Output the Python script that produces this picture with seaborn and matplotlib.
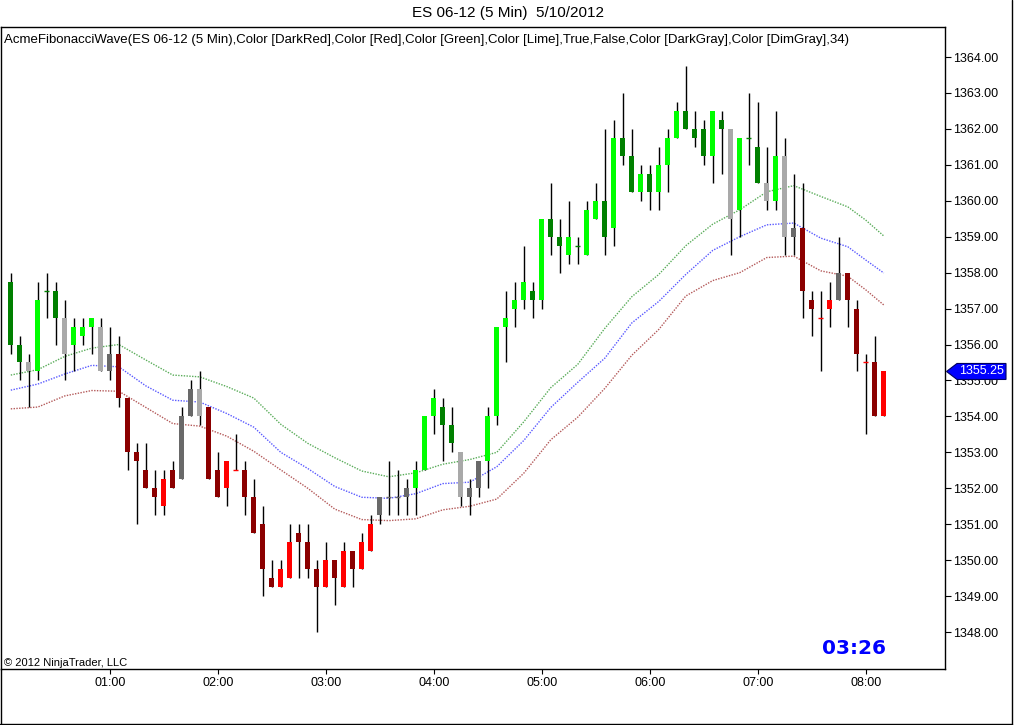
import matplotlib
matplotlib.use("Agg")
import matplotlib.pyplot as plt
import matplotlib.transforms as mtrans
from matplotlib.patches import Polygon
from matplotlib.lines import Line2D
from matplotlib.ticker import FuncFormatter
import seaborn as sns
import numpy as np

# ---------------- data ----------------
title = "ES 06-12 (5 Min)  5/10/2012"
indicator_label = ("AcmeFibonacciWave(ES 06-12 (5 Min),Color [DarkRed],Color [Red],Color [Green],"
                   "Color [Lime],True,False,Color [DarkGray],Color [DimGray],34)")
first_bar_minute = 5      # first bar closes at 00:05
bar_minutes = 5
hour_labels = ["01:00", "02:00", "03:00", "04:00", "05:00", "06:00", "07:00", "08:00"]
price_ticks = [1348, 1349, 1350, 1351, 1352, 1353, 1354, 1355, 1356, 1357, 1358,
               1359, 1360, 1361, 1362, 1363, 1364]
last_price = 1355.25
clock_text = "03:26"
copyright_text = "\u00a9 2012 NinjaTrader, LLC"

opens = [1357.75, 1356.0, 1355.5, 1355.25, 1357.5, 1357.5, 1356.75, 1356.0, 1356.25, 1356.5,
         1356.5, 1355.25, 1355.75, 1354.5, 1353.0, 1352.5, 1352.0, 1351.5, 1352.5, 1352.25,
         1354.0, 1354.75, 1354.25, 1352.5, 1352.0, 1352.5, 1352.5, 1351.75, 1351.0, 1349.5,
         1349.25, 1349.5, 1350.75, 1350.5, 1349.75, 1349.25, 1350.0, 1349.25, 1350.25, 1349.75,
         1350.25, 1351.25, 1351.75, 1351.75, 1351.75, 1352.0, 1352.5, 1354.0, 1354.25, 1353.75,
         1353.0, 1351.75, 1352.0, 1352.75, 1354.0, 1356.5, 1357.0, 1357.25, 1357.5, 1357.25,
         1359.5, 1359.0, 1358.5, 1358.75, 1358.5, 1359.5, 1360.0, 1359.25, 1361.75, 1361.25,
         1360.25, 1360.75, 1360.25, 1361.0, 1361.75, 1362.5, 1362.0, 1362.0, 1361.25, 1362.25,
         1362.0, 1359.75, 1361.75, 1361.5, 1360.5, 1360.0, 1361.25, 1359.0, 1359.25, 1357.25,
         1356.75, 1357.0, 1357.25, 1358.0, 1357.0, 1355.5, 1355.5, 1354.0]
highs = [1358.0, 1356.25, 1355.75, 1357.75, 1358.0, 1357.75, 1357.25, 1356.75, 1356.75, 1356.75,
         1356.75, 1356.5, 1356.25, 1354.5, 1353.25, 1353.25, 1352.5, 1352.5, 1352.75, 1354.25,
         1355.0, 1355.25, 1354.25, 1353.0, 1352.75, 1353.5, 1352.75, 1352.25, 1351.5, 1350.0,
         1350.0, 1351.0, 1351.0, 1351.0, 1350.0, 1350.5, 1350.0, 1350.5, 1350.25, 1350.75,
         1351.25, 1351.75, 1352.75, 1352.5, 1352.25, 1352.75, 1354.0, 1354.75, 1354.5, 1354.25,
         1353.0, 1352.25, 1352.75, 1354.25, 1356.5, 1357.5, 1357.75, 1358.75, 1357.75, 1359.5,
         1360.5, 1359.5, 1360.0, 1359.0, 1360.0, 1360.5, 1362.0, 1362.25, 1363.0, 1362.0,
         1361.0, 1361.0, 1361.5, 1362.0, 1362.75, 1363.75, 1362.5, 1362.25, 1362.5, 1362.5,
         1362.0, 1361.75, 1363.0, 1362.75, 1361.5, 1362.5, 1361.75, 1360.75, 1360.5, 1357.5,
         1357.5, 1357.75, 1359.0, 1358.0, 1357.25, 1355.75, 1356.25, 1355.25]
lows = [1355.75, 1355.0, 1354.25, 1355.0, 1356.75, 1356.0, 1355.0, 1355.25, 1356.0, 1355.75,
        1355.25, 1355.0, 1354.25, 1352.5, 1351.0, 1352.0, 1351.25, 1351.25, 1352.0, 1352.25,
        1354.0, 1353.75, 1352.25, 1351.75, 1351.5, 1352.5, 1351.25, 1350.75, 1349.0, 1349.25,
        1349.25, 1349.5, 1349.5, 1349.5, 1348.0, 1349.25, 1348.75, 1349.25, 1349.25, 1349.75,
        1350.25, 1351.0, 1351.25, 1351.25, 1351.25, 1351.25, 1352.5, 1353.5, 1352.75, 1353.0,
        1351.5, 1351.25, 1351.75, 1352.0, 1353.75, 1355.5, 1356.5, 1357.0, 1356.75, 1357.0,
        1358.5, 1358.0, 1358.25, 1358.25, 1358.5, 1359.5, 1358.5, 1358.75, 1361.0, 1360.25,
        1360.0, 1359.75, 1359.75, 1360.25, 1361.75, 1362.0, 1361.5, 1361.0, 1360.5, 1360.75,
        1358.5, 1359.0, 1361.0, 1360.5, 1359.75, 1359.75, 1358.5, 1358.5, 1356.75, 1356.25,
        1355.25, 1356.5, 1357.25, 1356.5, 1355.25, 1353.5, 1354.0, 1354.0]
closes = [1356.0, 1355.5, 1355.25, 1357.25, 1357.5, 1356.75, 1355.75, 1356.5, 1356.5, 1356.75,
          1355.25, 1355.75, 1354.5, 1353.0, 1352.75, 1352.0, 1351.75, 1352.25, 1352.0, 1354.0,
          1354.75, 1354.0, 1352.25, 1351.75, 1352.75, 1352.5, 1351.75, 1350.75, 1349.75, 1349.25,
          1349.75, 1350.5, 1350.5, 1349.75, 1349.25, 1350.0, 1349.5, 1350.25, 1349.75, 1350.5,
          1351.0, 1351.75, 1351.75, 1351.75, 1352.0, 1352.5, 1354.0, 1354.5, 1353.75, 1353.25,
          1351.75, 1352.0, 1352.75, 1354.0, 1356.5, 1356.75, 1357.25, 1357.75, 1357.25, 1359.5,
          1359.0, 1358.75, 1359.0, 1358.75, 1359.75, 1360.0, 1359.0, 1361.75, 1361.25, 1360.25,
          1360.75, 1360.25, 1361.0, 1361.75, 1362.5, 1362.0, 1361.75, 1361.25, 1362.5, 1362.0,
          1359.5, 1361.75, 1361.75, 1360.5, 1360.0, 1361.25, 1359.0, 1359.25, 1357.5, 1357.0,
          1356.75, 1357.25, 1358.0, 1357.25, 1355.75, 1355.5, 1354.0, 1355.25]
# G=Green, L=Lime, D=DarkRed, R=Red, A=DarkGray, M=DimGray
bar_codes = ("GGALGGALLLAMDDDDDRDMMADDRRDDDDRRDDDRDRDRRMMMMLLLGGAMMLLLLLGLGGLGLLGLGGLGLLLGGGLGALGGALAMDDRRMDDRDR")

band_idx = [0, 3, 6, 9, 12, 15, 18, 21, 24, 27, 30, 33, 36, 39, 42, 45, 48, 51, 54, 57,
            60, 63, 66, 69, 72, 75, 78, 81, 84, 87, 90, 93, 95, 97]
upper_band = [1355.15, 1355.30, 1355.67, 1355.90, 1356.00, 1355.57, 1355.15, 1355.10, 1354.83,
              1354.51, 1353.78, 1353.25, 1352.85, 1352.48, 1352.32, 1352.43, 1352.67, 1352.80,
              1353.00, 1353.85, 1354.80, 1355.45, 1356.45, 1357.33, 1357.95, 1358.75, 1359.35,
              1359.75, 1360.25, 1360.42, 1360.12, 1359.83, 1359.46, 1359.02]
middle_band = [1354.73, 1354.90, 1355.18, 1355.42, 1355.38, 1354.85, 1354.45, 1354.40, 1354.08,
               1353.70, 1353.00, 1352.55, 1352.05, 1351.75, 1351.72, 1351.85, 1352.13, 1352.17,
               1352.60, 1353.33, 1354.25, 1354.95, 1355.62, 1356.60, 1357.20, 1357.95, 1358.62,
               1359.00, 1359.33, 1359.38, 1358.96, 1358.72, 1358.35, 1357.99]
lower_band = [1354.21, 1354.26, 1354.57, 1354.72, 1354.70, 1354.25, 1353.80, 1353.73, 1353.45,
              1353.03, 1352.51, 1352.00, 1351.42, 1351.13, 1351.10, 1351.15, 1351.40, 1351.50,
              1351.70, 1352.42, 1353.35, 1353.98, 1354.78, 1355.70, 1356.42, 1357.35, 1357.78,
              1358.00, 1358.42, 1358.46, 1358.05, 1357.90, 1357.52, 1357.10]

color_map = {"G": "#008000", "L": "#00FF00", "D": "#8B0000", "R": "#FF0000",
             "A": "#A9A9A9", "M": "#696969"}

# ---------------- style ----------------
sns.set_theme(style="white")
plt.rcParams["font.family"] = ["Liberation Sans", "DejaVu Sans"]

W, H = 1016, 725
fig = plt.figure(figsize=(W / 100, H / 100), dpi=100, facecolor="white")
ax_l, ax_r, ax_t, ax_b = 0.5, 945.0, 27.0, 669.0
ax = fig.add_axes([ax_l / W, (H - ax_b) / H, (ax_r - ax_l) / W, (ax_b - ax_t) / H])
ax.set_facecolor("white")

px = 1.0 * 72 / 100  # one pixel in points
x = np.arange(len(opens))
o = np.array(opens); c = np.array(closes); hi = np.array(highs); lo = np.array(lows)
cols = [color_map[k] for k in bar_codes]

# bands
sns.lineplot(x=band_idx, y=upper_band, ax=ax, color="#008000", linewidth=1.0,
             linestyle=(0, (1, 1)), alpha=0.65, sort=False)
sns.lineplot(x=band_idx, y=middle_band, ax=ax, color="#0000FF", linewidth=1.0,
             linestyle=(0, (1, 1)), alpha=0.65, sort=False)
sns.lineplot(x=band_idx, y=lower_band, ax=ax, color="#8B0000", linewidth=1.0,
             linestyle=(0, (1, 1)), alpha=0.65, sort=False)

# wicks
ax.vlines(x, lo, hi, colors="black", linewidth=1.4 * px, zorder=3)
# bodies
bw = 5.0 / 9.0
body_bottom = np.minimum(o, c)
body_h = np.abs(c - o)
mask = body_h > 0
ax.bar(x[mask], body_h[mask], bottom=body_bottom[mask], width=bw,
       color=[cc for cc, m in zip(cols, mask) if m], linewidth=0, zorder=4)
dmask = ~mask
ax.hlines(o[dmask], x[dmask] - bw / 2, x[dmask] + bw / 2,
          colors=[cc for cc, m in zip(cols, dmask) if m], linewidth=1.4 * px, zorder=5)

# limits
ppx = 35.94  # pixels per point of price
ax.set_xlim(-10.3 / 9, (ax_r - ax_l - 10.3) / 9)
ax.set_ylim(1364 - (ax_b - 57) / ppx, 1364 + (57 - ax_t) / ppx)

# ticks
hour_pos = [(int(h[:2]) * 60 + int(h[3:]) - first_bar_minute) / bar_minutes for h in hour_labels]
ax.set_xticks(hour_pos)
ax.set_xticklabels(hour_labels)
ax.yaxis.tick_right()
ax.set_yticks(price_ticks)
ax.yaxis.set_major_formatter(FuncFormatter(lambda v, p: f"{v:.2f}"))
ax.tick_params(axis="y", which="both", right=True, left=False, direction="out",
               length=4.5, width=0.8, labelsize=9, pad=1.5, colors="black")
ax.tick_params(axis="x", which="both", bottom=True, direction="out",
               length=3.5, width=0.8, labelsize=9, pad=2.5, colors="black")
for s in ax.spines.values():
    s.set_color("black")
    s.set_linewidth(1.0)
ax.grid(False)

# texts
fig.text(508.5 / W, 1 - 13 / H, title, ha="center", va="center", fontsize=11, color="black")
ax.text(3 / (ax_r - ax_l), 1 - (40 - ax_t) / (ax_b - ax_t), indicator_label,
        transform=ax.transAxes, ha="left", va="center", fontsize=9.55, color="black")
ax.text(3 / (ax_r - ax_l), 1 - (663 - ax_t) / (ax_b - ax_t), copyright_text,
        transform=ax.transAxes, ha="left", va="center", fontsize=8, color="black")
ax.text((854 - ax_l) / (ax_r - ax_l), 1 - (648 - ax_t) / (ax_b - ax_t), clock_text,
        transform=ax.transAxes, ha="center", va="center", fontsize=14.5,
        fontweight="bold", color="#0000FF", family="DejaVu Sans")

# last price marker
tr = mtrans.blended_transform_factory(fig.transFigure, ax.transData)
hh = 8 / ppx
poly = Polygon([(946.5 / W, last_price), (957 / W, last_price + hh), (1006 / W, last_price + hh),
                (1006 / W, last_price - hh), (957 / W, last_price - hh)], closed=True,
               transform=tr, facecolor="#0000FF", edgecolor="#000060", linewidth=0.8,
               clip_on=False, zorder=10)
ax.add_patch(poly)
ax.text(982 / W, last_price, f"{last_price:.2f}", transform=tr, ha="center", va="center",
        fontsize=9, color="white", clip_on=False, zorder=11)

# outer frame (left, right and bottom)
fig.add_artist(Line2D([1012 / W, 1012 / W], [0.5 / H, 1.0], transform=fig.transFigure,
                      color="black", linewidth=1.0))
fig.add_artist(Line2D([0.5 / W, 0.5 / W], [0.5 / H, (H - ax_b) / H], transform=fig.transFigure,
                      color="black", linewidth=1.0))
fig.add_artist(Line2D([0, 1012 / W], [1.5 / H, 1.5 / H], transform=fig.transFigure,
                      color="black", linewidth=1.0))

fig.savefig("out.png", dpi=100, facecolor="white")
